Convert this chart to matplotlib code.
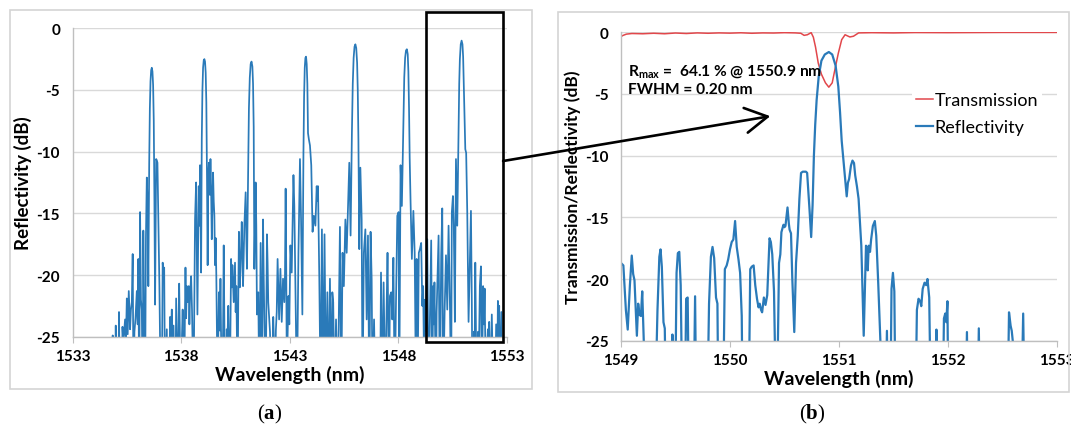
# -*- coding: utf-8 -*-
# FBG array reflectivity (a) and zoom on the last grating (b)

import numpy as np
import matplotlib.pyplot as plt
from matplotlib.patches import Rectangle, ConnectionPatch

plt.rcParams['font.family'] = ['Lato', 'DejaVu Sans']
plt.rcParams['axes.unicode_minus'] = False
plt.rcParams['mathtext.fontset'] = 'custom'
plt.rcParams['mathtext.rm'] = 'Lato:bold'
plt.rcParams['mathtext.bf'] = 'Liberation Serif:bold'
plt.rcParams['mathtext.default'] = 'rm'

# ---- (a) reflectivity of the whole array, wavelength [nm] / dB ----
wl_a = [
    # grating 1
    1534.70, 1534.82, 1534.85, 1534.88, 1534.96, 1534.99, 1535.03, 1535.11, 1535.14, 1535.18,
    1535.27, 1535.30, 1535.34, 1535.42, 1535.46, 1535.50, 1535.54, 1535.59, 1535.65, 1535.69,
    1535.73, 1535.77, 1535.81, 1535.85, 1535.90, 1535.96, 1536.00, 1536.03, 1536.07, 1536.11,
    1536.15, 1536.19, 1536.23, 1536.26, 1536.30, 1536.34, 1536.38, 1536.42, 1536.46, 1536.49,
    1536.53, 1536.56, 1536.59, 1536.62, 1536.65, 1536.68, 1536.71, 1536.74, 1536.77, 1536.80,
    1536.85, 1536.88, 1536.91, 1536.95, 1537.00, 1537.06, 1537.11, 1537.15, 1537.19, 1537.22,
    # grating 2
    1537.26, 1537.34, 1537.38, 1537.45, 1537.49, 1537.53, 1537.57, 1537.61, 1537.65, 1537.70,
    1537.74, 1537.77, 1537.83, 1537.87, 1537.91, 1537.98, 1538.03, 1538.07, 1538.14, 1538.17,
    1538.20, 1538.23, 1538.26, 1538.30, 1538.35, 1538.38, 1538.41, 1538.46, 1538.50, 1538.57,
    1538.61, 1538.64, 1538.69, 1538.72, 1538.75, 1538.81, 1538.85, 1538.87, 1538.92, 1538.95,
    1538.98, 1539.01, 1539.04, 1539.07, 1539.10, 1539.13, 1539.16, 1539.19, 1539.22, 1539.25,
    1539.28, 1539.32, 1539.35, 1539.38, 1539.41, 1539.47, 1539.50, 1539.53, 1539.56, 1539.59,
    1539.62, 1539.68,
    # grating 3
    1539.71, 1539.74, 1539.78, 1539.81, 1539.87, 1539.93, 1539.96, 1540.02, 1540.06, 1540.10,
    1540.13, 1540.17, 1540.24, 1540.27, 1540.30, 1540.33, 1540.36, 1540.42, 1540.48, 1540.51,
    1540.54, 1540.60, 1540.63, 1540.66, 1540.70, 1540.73, 1540.79, 1540.82, 1540.85, 1540.91,
    1540.97, 1541.00, 1541.03, 1541.08, 1541.12, 1541.16, 1541.20, 1541.24, 1541.28, 1541.31,
    1541.34, 1541.37, 1541.43, 1541.46, 1541.49, 1541.55, 1541.60, 1541.66, 1541.71, 1541.77,
    1541.80, 1541.83, 1541.89, 1541.95, 1541.98, 1542.01, 1542.09, 1542.17,
    # grating 4
    1542.24, 1542.28, 1542.32, 1542.36, 1542.40, 1542.44, 1542.51, 1542.57, 1542.63, 1542.69,
    1542.75, 1542.78, 1542.81, 1542.84, 1542.87, 1542.90, 1542.94, 1542.98, 1543.03, 1543.09,
    1543.13, 1543.17, 1543.21, 1543.27, 1543.33, 1543.40, 1543.47, 1543.52, 1543.58, 1543.63,
    1543.66, 1543.69, 1543.72, 1543.75, 1543.78, 1543.81, 1543.84, 1543.88, 1543.93, 1543.99,
    1544.05, 1544.11, 1544.18, 1544.24, 1544.27, 1544.30, 1544.36, 1544.42, 1544.48, 1544.54,
    # grating 5
    1544.60, 1544.67, 1544.73, 1544.79, 1544.85, 1544.91, 1544.96, 1545.00, 1545.06, 1545.13,
    1545.19, 1545.25, 1545.31, 1545.37, 1545.43, 1545.49, 1545.56, 1545.62, 1545.68, 1545.74,
    1545.80, 1545.86, 1545.90, 1545.94, 1545.98, 1546.02, 1546.06, 1546.10, 1546.13, 1546.16,
    1546.20, 1546.25, 1546.31, 1546.35, 1546.41, 1546.48, 1546.54, 1546.60, 1546.66, 1546.72,
    1546.77, 1546.81, 1546.88, 1546.94,
    # grating 6
    1547.07, 1547.16, 1547.20, 1547.26, 1547.32, 1547.40, 1547.46, 1547.50, 1547.57, 1547.61,
    1547.67, 1547.72, 1547.77, 1547.83, 1547.89, 1547.95, 1548.01, 1548.04, 1548.10, 1548.16,
    1548.23, 1548.27, 1548.31, 1548.35, 1548.39, 1548.43, 1548.46, 1548.49, 1548.52, 1548.56,
    1548.62, 1548.69, 1548.75, 1548.81, 1548.84, 1548.88, 1548.94, 1548.99, 1549.05, 1549.10,
    1549.14, 1549.20,
    # grating 7
    1549.23, 1549.26, 1549.29, 1549.33, 1549.39, 1549.45, 1549.51, 1549.56, 1549.60, 1549.63,
    1549.66, 1549.73, 1549.76, 1549.79, 1549.85, 1549.91, 1549.94, 1549.97, 1550.02, 1550.06,
    1550.13, 1550.19, 1550.25, 1550.31, 1550.37, 1550.43, 1550.46, 1550.51, 1550.55, 1550.60,
    1550.65, 1550.68, 1550.71, 1550.77, 1550.80, 1550.83, 1550.87, 1550.91, 1550.95, 1550.98,
    1551.01, 1551.04, 1551.08, 1551.12, 1551.17, 1551.23, 1551.29, 1551.34, 1551.38, 1551.41,
    1551.48, 1551.51, 1551.54, 1551.60, 1551.67, 1551.71, 1551.75, 1551.80, 1551.84, 1551.90,
    1551.94, 1551.97, 1552.03, 1552.08, 1552.12, 1552.15, 1552.18, 1552.24, 1552.30, 1552.37,
    1552.45, 1552.50, 1552.54, 1552.58, 1552.61, 1552.64, 1552.67, 1552.74, 1552.78,
]
refl_a = [
    # grating 1
    -30, -30, -24.9, -30, -30, -24.1, -30, -30, -23.0, -30,
    -30, -24.2, -25.5, -23.6, -25.3, -21.9, -24.8, -21.3, -24.4, -22.8,
    -22.2, -18.3, -30, -24.6, -23.5, -21.3, -24.0, -18.7, -30, -14.9,
    -22.0, -22.8, -30, -16.4, -25.0, -30, -17.0, -12.1, -14.5, -20.9,
    -11.0, -6.5, -4.3, -3.4, -3.2, -3.5, -4.6, -7.5, -14.0, -22.4,
    -10.6, -10.7, -10.9, -15.5, -20.9, -30, -30, -19.0, -20.0, -19.4,
    # grating 2
    -30, -24.4, -30, -30, -23.4, -25.5, -22.8, -30, -24.1, -30,
    -30, -21.9, -30, -25.0, -20.7, -30, -25.5, -22.8, -30, -24.0,
    -19.4, -23.5, -20.9, -22.2, -20.9, -24.0, -21.7, -20.1, -22.8, -30,
    -22.0, -15.5, -12.5, -18.0, -23.2, -12.8, -16.0, -11.1, -19.8, -9.0,
    -5.0, -3.2, -2.6, -2.5, -2.7, -3.6, -6.0, -12.0, -19.2, -12.0,
    -10.9, -13.5, -10.6, -13.0, -17.1, -11.7, -14.0, -15.2, -19.2, -17.0,
    -20.1, -30,
    # grating 3
    -25.0, -21.4, -24.5, -20.3, -30, -24.6, -17.6, -30, -30, -24.4,
    -25.5, -22.5, -30, -24.0, -18.7, -21.0, -19.2, -22.2, -19.0, -23.0,
    -20.9, -30, -22.0, -16.5, -21.0, -19.8, -15.7, -18.0, -20.9, -16.0,
    -13.3, -17.0, -19.5, -12.0, -6.5, -4.0, -2.9, -2.7, -3.1, -4.5,
    -8.0, -19.5, -12.5, -16.0, -23.2, -21.4, -30, -17.4, -30, -15.5,
    -20.0, -23.6, -30, -16.7, -19.0, -22.2, -24.6, -30,
    # grating 4
    -23.4, -26.0, -30, -24.5, -23.0, -18.7, -23.6, -19.5, -23.8, -20.3,
    -22.2, -20.0, -13.0, -20.0, -30, -25.0, -21.7, -24.0, -17.6, -19.8,
    -16.0, -11.9, -14.4, -22.2, -30, -18.2, -10.6, -15.5, -23.2, -10.1,
    -5.5, -3.2, -2.4, -2.3, -2.9, -4.5, -8.5, -9.0, -9.5, -11.1,
    -16.5, -15.2, -16.0, -12.8, -14.0, -12.8, -20.3, -30, -16.3, -30,
    # grating 5
    -16.7, -30, -21.4, -30, -20.3, -30, -21.4, -22.2, -30, -23.6,
    -30, -24.4, -16.1, -30, -18.2, -20.9, -15.5, -18.2, -14.4, -10.9,
    -16.8, -8.5, -4.5, -2.4, -1.5, -1.3, -1.6, -2.8, -5.0, -9.0,
    -17.9, -11.3, -15.5, -30, -18.2, -16.3, -23.6, -16.8, -30, -16.5,
    -20.3, -30, -23.6, -30,
    # grating 6
    -30, -30, -19.8, -30, -20.6, -30, -22.5, -18.2, -30, -21.7,
    -21.4, -23.6, -18.6, -30, -22.2, -15.2, -14.9, -30, -11.1, -14.4,
    -8.0, -4.0, -2.4, -1.8, -1.7, -2.1, -3.5, -6.5, -10.5, -14.0,
    -18.7, -14.8, -18.2, -30, -18.7, -30, -18.2, -17.9, -17.4, -22.5,
    -20.9, -30,
    # grating 7
    -22.0, -24.5, -21.5, -17.1, -30, -23.6, -17.2, -30, -20.9, -24.0,
    -20.6, -30, -23.0, -20.9, -16.8, -30, -24.0, -18.4, -14.6, -30,
    -22.8, -18.4, -22.8, -16.0, -22.2, -30, -14.9, -13.6, -16.0, -23.8,
    -10.6, -13.5, -16.0, -8.0, -4.5, -2.5, -1.3, -1.0, -1.3, -2.3,
    -4.5, -7.0, -9.8, -10.1, -14.9, -23.8, -18.7, -14.8, -22.2, -30,
    -24.6, -26.0, -19.0, -30, -24.6, -26.0, -20.9, -19.3, -30, -20.9,
    -24.0, -21.1, -30, -26.0, -24.4, -26.0, -23.8, -30, -23.2, -30,
    -30, -24.0, -30, -22.1, -25.0, -22.5, -30, -23.0, -30,
]

# ---- (b) last grating, reflectivity ----
wl_b = [
    1549.000, 1549.022, 1549.045, 1549.062, 1549.082, 1549.099, 1549.112, 1549.124, 1549.146, 1549.158,
    1549.170, 1549.183, 1549.195, 1549.211, 1549.225, 1549.310, 1549.335, 1549.352, 1549.363, 1549.375,
    1549.390, 1549.402, 1549.415, 1549.462, 1549.472, 1549.482, 1549.495, 1549.510, 1549.522, 1549.535,
    1549.548, 1549.565, 1549.585, 1549.598, 1549.612, 1549.625, 1549.665, 1549.680, 1549.692, 1549.790,
    1549.808, 1549.825, 1549.840, 1549.855, 1549.872, 1549.885, 1549.895, 1549.935, 1549.953, 1549.970,
    1549.984, 1550.000, 1550.016, 1550.031, 1550.047, 1550.062, 1550.078, 1550.093, 1550.108, 1550.118,
    1550.170, 1550.186, 1550.200, 1550.217, 1550.232, 1550.248, 1550.262, 1550.273, 1550.285, 1550.295,
    1550.311, 1550.326, 1550.342, 1550.363, 1550.375, 1550.388, 1550.404, 1550.425, 1550.440, 1550.450,
    1550.462, 1550.472, 1550.491, 1550.500, 1550.509, 1550.528, 1550.540, 1550.547, 1550.560, 1550.572,
    1550.590, 1550.606, 1550.622, 1550.637, 1550.652, 1550.668, 1550.683, 1550.697, 1550.708, 1550.720,
    1550.730, 1550.745, 1550.758, 1550.770, 1550.782, 1550.795, 1550.814, 1550.839, 1550.870, 1550.907,
    1550.938, 1550.969, 1550.994, 1551.010, 1551.025, 1551.045, 1551.056, 1551.071, 1551.082, 1551.093,
    1551.110, 1551.124, 1551.138, 1551.149, 1551.165, 1551.180, 1551.195, 1551.205, 1551.218, 1551.227,
    1551.240, 1551.248, 1551.256, 1551.264, 1551.273, 1551.285, 1551.295, 1551.311, 1551.329, 1551.342,
    1551.360, 1551.382, 1551.395, 1551.425, 1551.440, 1551.452, 1551.470, 1551.482, 1551.495, 1551.508,
    1551.520, 1551.700, 1551.715, 1551.730, 1551.745, 1551.755, 1551.768, 1551.785, 1551.800, 1551.812,
    1551.828, 1551.845, 1551.885, 1551.894, 1551.905, 1551.950, 1551.963, 1551.975, 1551.985, 1551.995,
    1552.005, 1552.160, 1552.174, 1552.186, 1552.270, 1552.283, 1552.296, 1552.545, 1552.560, 1552.575,
    1552.585, 1552.600, 1552.620, 1552.670, 1552.690, 1552.705, 1553.000,
]
refl_b = [
    -18.7, -18.9, -22.5, -24.1, -20.5, -18.1, -19.6, -20.1, -24.6, -22.0,
    -22.9, -23.0, -21.0, -25.5, -32, -32, -22.5, -18.2, -17.6, -19.0,
    -23.5, -24.0, -32, -32, -24.5, -32, -32, -19.5, -17.9, -17.8,
    -20.5, -32, -32, -21.6, -21.5, -32, -32, -21.4, -32, -32,
    -22.0, -18.2, -17.4, -18.3, -21.5, -22.0, -32, -32, -19.2, -18.9,
    -18.4, -17.6, -17.0, -16.8, -15.3, -17.4, -18.4, -19.5, -23.0, -32,
    -32, -19.2, -19.0, -18.9, -20.5, -21.6, -22.3, -22.0, -22.5, -22.7,
    -21.5, -22.1, -21.3, -16.7, -17.0, -18.0, -21.0, -32, -25.0, -18.7,
    -18.0, -16.2, -15.6, -15.8, -15.7, -14.2, -15.5, -16.0, -16.3, -20.0,
    -24.3, -18.7, -16.5, -13.5, -11.4, -11.3, -11.3, -11.3, -11.4, -13.0,
    -14.4, -16.6, -14.0, -10.0, -7.5, -5.5, -3.6, -2.3, -1.8, -1.6,
    -1.8, -2.7, -4.4, -6.5, -8.8, -10.8, -12.0, -13.3, -12.2, -11.9,
    -10.8, -10.4, -10.6, -11.6, -12.5, -13.5, -15.8, -17.3, -21.5, -24.6,
    -20.0, -17.3, -17.8, -19.3, -17.3, -17.8, -16.8, -15.7, -15.3, -16.5,
    -20.3, -25.5, -32, -32, -24.2, -32, -32, -20.8, -19.5, -21.0,
    -32, -32, -22.5, -21.6, -21.8, -22.2, -20.8, -20.3, -20.5, -20.0,
    -21.5, -32, -32, -24.1, -32, -32, -23.2, -22.8, -23.5, -21.8,
    -32, -32, -24.3, -32, -32, -24.0, -32, -32, -22.7, -23.8,
    -24.2, -25.5, -32, -32, -22.8, -32, -32,
]

# ---- (b) last grating, transmission ----
wl_t = [
    1549.000, 1549.020, 1549.050, 1549.100, 1549.200, 1549.300, 1549.400, 1549.500, 1549.600, 1549.700,
    1549.800, 1549.900, 1550.000, 1550.100, 1550.200, 1550.300, 1550.400, 1550.500, 1550.600, 1550.650,
    1550.680, 1550.710, 1550.745, 1550.765, 1550.785, 1550.810, 1550.839, 1550.876, 1550.907, 1550.938,
    1550.969, 1550.994, 1551.025, 1551.056, 1551.080, 1551.100, 1551.133, 1551.180, 1551.300, 1551.500,
    1551.700, 1552.000, 1552.500, 1553.000,
]
trans_b = [
    -0.35, -0.25, -0.15, -0.10, -0.12, -0.08, -0.12, -0.06, -0.10, -0.05,
    -0.08, -0.05, -0.07, -0.04, -0.08, -0.05, -0.06, -0.03, -0.05, -0.08,
    -0.25, -0.20, -0.03, -0.40, -1.20, -2.50, -3.40, -4.10, -4.45, -4.10,
    -2.75, -1.70, -0.60, -0.20, -0.30, -0.38, -0.32, -0.05, -0.03, -0.05,
    -0.02, -0.03, -0.01, -0.01,
]

BLUE = '#2a7ab9'
RED = '#e2474b'
GRID = '#d9d9d9'
AXIS = '#bfbfbf'


def style_axes(ax, xticks, ylabel, ylabel_size):
    ax.set_xlim(xticks[0], xticks[-1])
    ax.set_ylim(-25, 0)
    ax.set_xticks(xticks)
    ax.set_yticks(np.arange(-25, 1, 5))
    ax.grid(axis='y', color=GRID, lw=1.0)
    ax.set_axisbelow(True)
    for s in ['top', 'right']:
        ax.spines[s].set_visible(False)
    for s in ['left', 'bottom']:
        ax.spines[s].set_color(AXIS)
        ax.spines[s].set_linewidth(1.0)
    ax.tick_params(axis='x', length=4, color=AXIS, labelsize=11, pad=5)
    ax.tick_params(axis='y', length=0, labelsize=11, pad=9)
    for lab in ax.get_xticklabels() + ax.get_yticklabels():
        lab.set_fontweight('bold')
    ax.set_xlabel('Wavelength (nm)', fontsize=14, fontweight='bold', labelpad=1)
    ax.set_ylabel(ylabel, fontsize=ylabel_size, fontweight='bold', labelpad=3)


fig = plt.figure(figsize=(10.71, 4.35), dpi=100)
ax1 = fig.add_axes([0.0677, 0.2237, 0.4057, 0.709])
ax2 = fig.add_axes([0.5798, 0.2145, 0.4071, 0.709])

# (a)
ax1.plot(wl_a, refl_a, color=BLUE, lw=1.25)
style_axes(ax1, [1533, 1538, 1543, 1548, 1553], 'Reflectivity (dB)', 13.5)

# (b)
ax2.plot(wl_t, trans_b, color=RED, lw=1.1, label='Transmission')
ax2.plot(wl_b, refl_b, color=BLUE, lw=1.6, label='Reflectivity')
style_axes(ax2, [1549, 1550, 1551, 1552, 1553], 'Transmission/Reflectivity (dB)', 12.5)
leg = ax2.legend(loc='upper left', bbox_to_anchor=(0.668, 0.818), fontsize=13,
                 handlelength=0.95, handletextpad=0.1, labelspacing=0.6,
                 borderpad=0.2, borderaxespad=0, frameon=True, fancybox=False)
leg.get_frame().set_facecolor('white')
leg.get_frame().set_edgecolor('none')
leg.get_frame().set_alpha(1)

ax2.text(1549.065, -3.1, r'R$_{max}$ =  64.1 % @ 1550.9 nm', fontsize=11.2,
         fontweight='bold', va='center')
ax2.text(1549.065, -4.6, 'FWHM = 0.20 nm', fontsize=11.2, fontweight='bold', va='center')

# box around the last grating and the arrow to the zoom
ax1.add_patch(Rectangle((1549.27, -25.43), 3.55, 26.75, fill=False, ec='black',
                        lw=1.9, clip_on=False, zorder=5))
con = ConnectionPatch(xyA=(1552.82, -10.76), coordsA=ax1.transData,
                      xyB=(1550.37, -6.8), coordsB=ax2.transData,
                      arrowstyle='->,head_length=0.8,head_width=0.45',
                      mutation_scale=20, lw=1.9, color='black', zorder=6)
fig.add_artist(con)

# chart frames
fig.add_artist(Rectangle((10 / 1071, 45 / 435), 522 / 1071, 379 / 435,
                         transform=fig.transFigure, fill=False, ec='#d4d4d4', lw=1.2))
fig.add_artist(Rectangle((558 / 1071, 42 / 435), 511 / 1071, 380 / 435,
                         transform=fig.transFigure, fill=False, ec='#d4d4d4', lw=1.2))

# panel letters
fig.text(270 / 1071, 1 - 414 / 435, r'($\mathbf{a}$)', family='Liberation Serif',
         fontsize=15, ha='center', va='center')
fig.text(812 / 1071, 1 - 414 / 435, r'($\mathbf{b}$)', family='Liberation Serif',
         fontsize=15, ha='center', va='center')

plt.savefig('out.png', dpi=100)
